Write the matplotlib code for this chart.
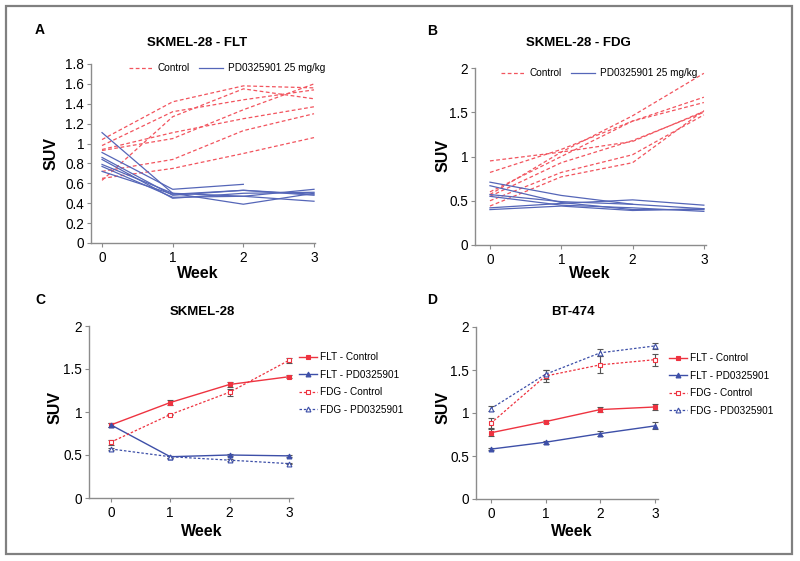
import matplotlib
matplotlib.use("Agg")
from matplotlib import pyplot as plt
from matplotlib.patches import Rectangle
from matplotlib.ticker import FuncFormatter

plt.rcParams['font.family'] = ['Liberation Sans', 'DejaVu Sans']

weeks = [0, 1, 2, 3]

# panel A - SKMEL-28 FLT, individual animals
flt_control = [
    [1.04, 1.42, 1.58, 1.56],
    [0.63, 1.27, 1.55, 1.45],
    [0.98, 1.32, 1.44, 1.54],
    [0.94, 1.11, 1.25, 1.37],
    [0.93, 1.05, 1.34, 1.60],
    [0.72, 0.84, 1.13, 1.30],
    [0.65, 0.75, 0.90, 1.06],
]
flt_pd = [
    [1.11, 0.50, 0.47, 0.54],
    [0.91, 0.54, 0.59],
    [0.86, 0.48, 0.53, 0.49],
    [0.84, 0.45, 0.50, 0.51],
    [0.79, 0.50, 0.39, 0.50],
    [0.77, 0.46, 0.47, 0.42],
    [0.72, 0.49, 0.53, 0.48],
]

# panel B - SKMEL-28 FDG, individual animals
fdg_control = [
    [0.57, 1.05, 1.46, 1.94],
    [0.95, 1.05, 1.17, 1.51],
    [0.82, 1.08, 1.40, 1.67],
    [0.60, 1.00, 1.40, 1.61],
    [0.55, 0.93, 1.18, 1.50],
    [0.50, 0.82, 1.02, 1.47],
    [0.44, 0.77, 0.93, 1.52],
]
fdg_pd = [
    [0.71, 0.56, 0.46, 0.41],
    [0.67, 0.48, 0.40, 0.40],
    [0.57, 0.49, 0.46],
    [0.55, 0.45, 0.42, 0.38],
    [0.42, 0.47, 0.51, 0.45],
    [0.40, 0.44, 0.39, 0.41],
]

# panel C - SKMEL-28 means
c_flt_ctrl = [0.85, 1.11, 1.32, 1.41]
c_flt_ctrl_err = [0.02, 0.03, 0.03, 0.02]
c_flt_pd = [0.85, 0.48, 0.50, 0.49]
c_flt_pd_err = [0.02, 0.01, 0.01, 0.01]
c_fdg_ctrl = [0.65, 0.97, 1.23, 1.60]
c_fdg_ctrl_err = [0.03, 0.01, 0.04, 0.03]
c_fdg_pd = [0.57, 0.48, 0.44, 0.40]
c_fdg_pd_err = [0.01, 0.01, 0.01, 0.01]

# panel D - BT-474 means
d_flt_ctrl = [0.77, 0.90, 1.04, 1.07]
d_flt_ctrl_err = [0.04, 0.02, 0.03, 0.04]
d_flt_pd = [0.58, 0.66, 0.76, 0.85]
d_flt_pd_err = [0.01, 0.02, 0.03, 0.04]
d_fdg_ctrl = [0.88, 1.43, 1.56, 1.62]
d_fdg_ctrl_err = [0.06, 0.07, 0.10, 0.07]
d_fdg_pd = [1.05, 1.45, 1.70, 1.78]
d_fdg_pd_err = [0.03, 0.05, 0.04, 0.03]

RED = '#ee3340'
RED_LIGHT = '#f2545e'
BLUE = '#3d4fa8'
BLUE_LIGHT = '#5566b8'
GRAY = '#8c8c8c'

W, H = 800, 561
fig = plt.figure(figsize=(8, 5.61), dpi=100)


def px_axes(x0, x1, y_top, y_bot):
    return fig.add_axes([x0 / W, 1 - y_bot / H, (x1 - x0) / W, (y_bot - y_top) / H])


def ftext(x, y, s, **kw):
    fig.text(x / W, 1 - y / H, s, **kw)


def style(ax, ymax, ystep, xlim):
    for side in ['top', 'right']:
        ax.spines[side].set_visible(False)
    for side in ['left', 'bottom']:
        ax.spines[side].set_color(GRAY)
        ax.spines[side].set_linewidth(1.0)
    ax.set_xlim(*xlim)
    ax.set_ylim(0, ymax)
    ax.set_xticks(weeks)
    n = int(round(ymax / ystep))
    ax.set_yticks([i * ystep for i in range(n + 1)])
    ax.yaxis.set_major_formatter(FuncFormatter(lambda v, p: '%g' % round(v, 2)))
    ax.tick_params(direction='out', length=3, color=GRAY, labelsize=9.8, pad=2)
    ax.tick_params(axis='x', pad=2.5)


# ---------- A ----------
axA = px_axes(91, 315, 64, 243)
for v in flt_control:
    axA.plot(weeks[:len(v)], v, color=RED_LIGHT, lw=0.9, ls=(0, (3, 2)))
for v in flt_pd:
    axA.plot(weeks[:len(v)], v, color=BLUE_LIGHT, lw=0.9)
style(axA, 1.8, 0.2, (-0.156, 3.014))
axA.plot([], [], color=RED_LIGHT, lw=0.9, ls=(0, (3, 2)), label='Control')
axA.plot([], [], color=BLUE_LIGHT, lw=0.9, label='PD0325901 25 mg/kg')
axA.legend(loc='center left', bbox_to_anchor=(0.15, 0.975), ncol=2, frameon=False,
           fontsize=7.2, handlelength=2.4, columnspacing=0.9, handletextpad=0.5,
           borderaxespad=0)

# ---------- B ----------
axB = px_axes(475, 706, 68, 245)
for v in fdg_control:
    axB.plot(weeks[:len(v)], v, color=RED_LIGHT, lw=0.9, ls=(0, (3, 2)))
for v in fdg_pd:
    axB.plot(weeks[:len(v)], v, color=BLUE_LIGHT, lw=0.9)
style(axB, 2.0, 0.5, (-0.21, 3.03))
axB.plot([], [], color=RED_LIGHT, lw=0.9, ls=(0, (3, 2)), label='Control')
axB.plot([], [], color=BLUE_LIGHT, lw=0.9, label='PD0325901 25 mg/kg')
axB.legend(loc='center left', bbox_to_anchor=(0.095, 0.97), ncol=2, frameon=False,
           fontsize=7.2, handlelength=2.4, columnspacing=0.9, handletextpad=0.5,
           borderaxespad=0)


def mean_panel(ax, series):
    for vals, err, color, ls, mk, filled, label in series:
        ax.errorbar(weeks, vals, yerr=err, fmt='none', ecolor='#555555',
                    elinewidth=0.8, capsize=2, capthick=0.8, zorder=2)
        ax.plot(weeks, vals, color=color, ls=ls, lw=1.0 if ls == '-' else 0.9,
                marker=mk, ms=3.5, mew=0.8, mec=color,
                mfc=color if filled else 'white', label=label, zorder=3)


# ---------- C ----------
axC = px_axes(89, 293, 326, 498)
mean_panel(axC, [
    (c_flt_ctrl, c_flt_ctrl_err, RED, '-', 's', True, 'FLT - Control'),
    (c_flt_pd, c_flt_pd_err, BLUE, '-', '^', True, 'FLT - PD0325901'),
    (c_fdg_ctrl, c_fdg_ctrl_err, RED, (0, (2, 1.5)), 's', False, 'FDG - Control'),
    (c_fdg_pd, c_fdg_pd_err, BLUE, (0, (2, 1.5)), '^', False, 'FDG - PD0325901'),
])
style(axC, 2.0, 0.5, (-0.37, 3.07))
axC.legend(loc='center left', bbox_to_anchor=(1.01, 0.665), frameon=False,
           fontsize=7.2, handlelength=1.8, handletextpad=0.3, labelspacing=0.75,
           borderaxespad=0)

# ---------- D ----------
axD = px_axes(476, 658, 327, 499)
mean_panel(axD, [
    (d_flt_ctrl, d_flt_ctrl_err, RED, '-', 's', True, 'FLT - Control'),
    (d_flt_pd, d_flt_pd_err, BLUE, '-', '^', True, 'FLT - PD0325901'),
    (d_fdg_ctrl, d_fdg_ctrl_err, RED, (0, (2, 1.5)), 's', False, 'FDG - Control'),
    (d_fdg_pd, d_fdg_pd_err, BLUE, (0, (2, 1.5)), '^', False, 'FDG - PD0325901'),
])
style(axD, 2.0, 0.5, (-0.27, 3.055))
axD.legend(loc='center left', bbox_to_anchor=(1.04, 0.665), frameon=False,
           fontsize=7.2, handlelength=1.8, handletextpad=0.3, labelspacing=0.75,
           borderaxespad=0)

# titles, labels, panel letters
for x, y, s in [(197, 43, 'SKMEL-28 - FLT'), (578, 43, 'SKMEL-28 - FDG'),
                (202, 312, 'SKMEL-28'), (573, 312, 'BT-474')]:
    ftext(x, y, s, ha='center', va='center', fontsize=9.5, fontweight='bold')
for x, y, s in [(40, 30, 'A'), (432, 31, 'B'), (40, 300, 'C'), (432, 300, 'D')]:
    ftext(x, y, s, ha='center', va='center', fontsize=10, fontweight='bold')
for x, y in [(51, 153), (443, 155), (55, 407), (443, 407)]:
    ftext(x, y, 'SUV', ha='center', va='center', rotation=90, fontsize=11.5, fontweight='bold')
for x, y in [(198, 274), (590, 274), (202, 531), (572, 531)]:
    ftext(x, y, 'Week', ha='center', va='center', fontsize=11.5, fontweight='bold')

fig.patches.append(Rectangle((6 / W, 1 - 554 / H), 786 / W, 548 / H,
                             transform=fig.transFigure, fill=False,
                             edgecolor='#808080', lw=1.6))

fig.savefig('out.png', dpi=100)
